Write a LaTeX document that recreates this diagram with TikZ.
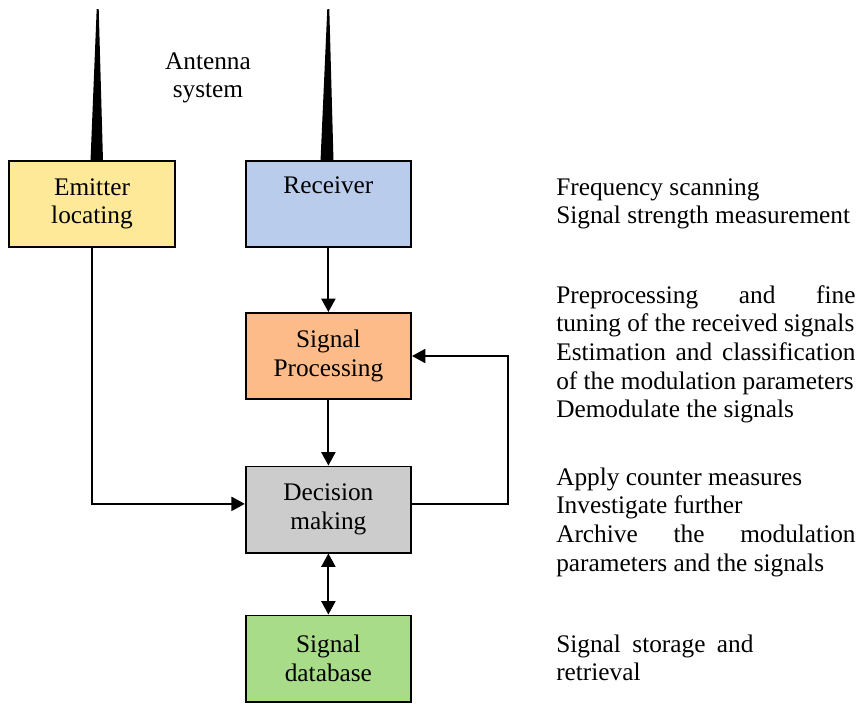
\documentclass[tikz,border=0pt]{standalone}
\usepackage{fontspec}
\setmainfont{Liberation Serif}
\usepackage{tikz}
\usetikzlibrary{arrows.meta}
\definecolor{YellowBox}{RGB}{254,233,152}
\definecolor{BlueBox}{RGB}{186,204,236}
\definecolor{OrangeBox}{RGB}{253,187,137}
\definecolor{GreyBox}{RGB}{204,204,204}
\definecolor{GreenBox}{RGB}{168,220,136}
\tikzstyle{block}   =[draw, line width=1.4pt, minimum width=4.13cm, minimum height=2.15cm, align=center, inner sep=0pt]
\tikzstyle{link}    =[line width=1.4pt, -{Triangle[length=9.5pt,width=10pt]}]
\tikzstyle{link2}   =[line width=1.4pt, {Triangle[length=9.5pt,width=10pt]}-{Triangle[length=9.5pt,width=10pt]}]
\tikzstyle{note}    =[anchor=base west, inner sep=0pt, text width=7.48cm, align=justify]
\hyphenpenalty=10000
\begin{document}
\begin{tikzpicture}[x=0.025cm, y=-0.025cm, font=\fontsize{18pt}{20.4pt}\selectfont]
 \useasboundingbox (0,0) rectangle (867,704);
 % antennas
 \fill (96.7,9) -- (98.7,9) -- (103,161) -- (90.5,161) -- cycle;
 \fill (327.3,9) -- (329.3,9) -- (333.5,161) -- (320.5,161) -- cycle;
 \node[align=center] (ant) at (208,78) {Antenna\\system};
 % blocks
 \node[block, fill=YellowBox] (emit) at (92,204) {Emitter\\locating};
 \node[block, fill=BlueBox] (rcv) at (328.4,204) {Receiver\\\strut};
 \node[block, fill=OrangeBox] (proc) at (328.4,356) {Signal\\Processing};
 \node[block, fill=GreyBox] (dec) at (328.4,509.5) {Decision\\making};
 \node[block, fill=GreenBox] (db) at (328.4,658.5) {Signal\\database};
 % links
 \draw[link] (rcv) -- (proc);
 \draw[link] (proc) -- (dec);
 \draw[link2] (dec) -- (db);
 \draw[link] (emit.south) |- ([yshift=4pt]dec.west);
 \draw[link] ([yshift=4pt]dec.east) -- ++(96,0) |- (proc.east);
 % notes
 \node[note] (n1) at (556,195) {Frequency scanning\\Signal strength measurement};
 \node[note] (n2) at (556,303) {Preprocessing and fine\linebreak tuning of the received signals\\Estimation and classification\linebreak of the modulation parameters\\Demodulate the signals};
 \node[note] (n3) at (556,485) {Apply counter measures\\Investigate further\\Archive the modulation\linebreak parameters and the signals};
 \node[note, text width=4.93cm] (n4) at (556,652) {Signal storage and\linebreak retrieval};
\end{tikzpicture}
\end{document}
